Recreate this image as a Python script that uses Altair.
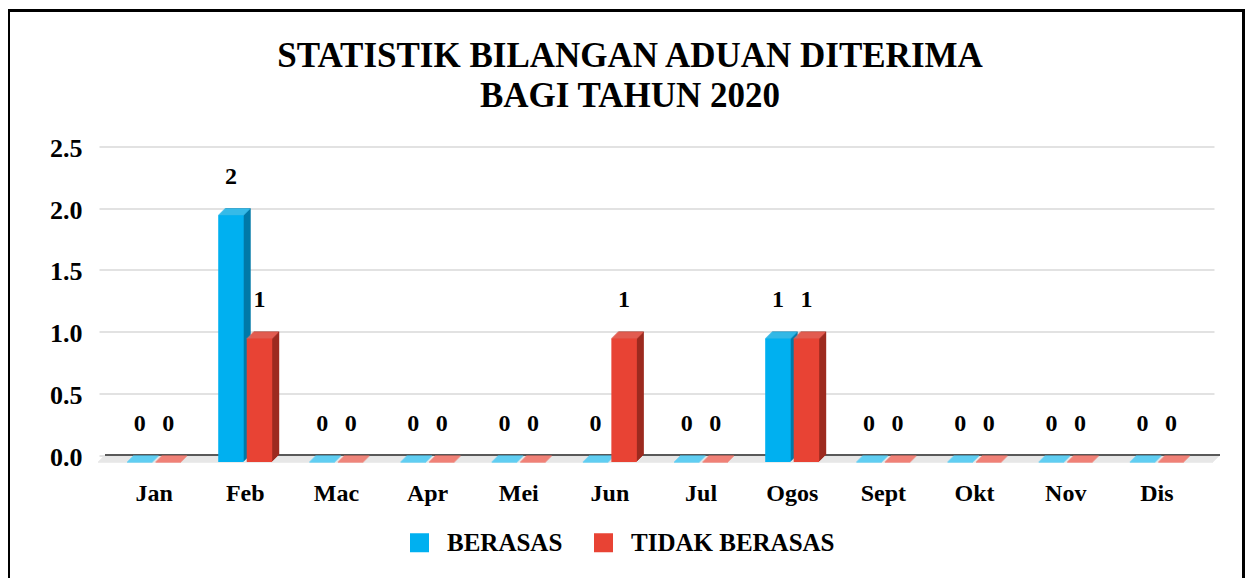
import altair as alt
import pandas as pd

# ---- data ----
months = ["Jan", "Feb", "Mac", "Apr", "Mei", "Jun", "Jul", "Ogos", "Sept", "Okt", "Nov", "Dis"]
berasas = [0, 2, 0, 0, 0, 0, 0, 1, 0, 0, 0, 0]
tidak_berasas = [0, 1, 0, 0, 0, 1, 0, 1, 0, 0, 0, 0]
series_names = ["BERASAS", "TIDAK BERASAS"]
y_ticks = [0, 0.5, 1.0, 1.5, 2.0, 2.5]
title_lines = ["STATISTIK BILANGAN ADUAN DITERIMA", "BAGI TAHUN 2020"]

rows = []
for m, b, t in zip(months, berasas, tidak_berasas):
    rows.append({"month": m, "series": series_names[0], "value": b})
    rows.append({"month": m, "series": series_names[1], "value": t})
df = pd.DataFrame(rows)

# ---- styling / geometry ----
W, H, D = 1115, 308.5, 7
FONT = "Liberation Serif"
front_colors = ["#00B0F0", "#E84334"]
top_colors = ["#40C8F5", "#F26A5C"]
side_colors = ["#0079A8", "#9C2A1F"]


def pick(colors):
    return alt.when(alt.datum.series == series_names[0]).then(alt.value(colors[0])).otherwise(alt.value(colors[1]))


def xenc(shift, axis=None):
    return alt.X("month:N", sort=months, title=None, axis=axis,
                 scale=alt.Scale(range=[shift, W + shift], paddingInner=0.4066, paddingOuter=0.3187))


xoff = alt.XOffset("series:N", sort=series_names,
                   scale=alt.Scale(range=[0, 54], paddingInner=0.105, paddingOuter=0))

y_axis = alt.Axis(values=y_ticks, format=".1f", labelFont=FONT, labelFontWeight="bold",
                  labelFontSize=26, labelColor="black", labelPadding=23, labelOffset=2,
                  domain=False, ticks=False, tickSize=0, grid=True, gridColor="#d9d9d9",
                  gridWidth=1.5, title=None)
x_axis = alt.Axis(labelFont=FONT, labelFontWeight="bold", labelFontSize=24, labelColor="black",
                  labelPadding=45, labelBaseline="alphabetic", labelAngle=0, domain=False,
                  ticks=False, tickSize=0, grid=False, title=None)

yscale = alt.Scale(domain=[0, 2.5], nice=False, zero=True)


def yenc():
    return alt.Y("value:Q", scale=yscale, axis=y_axis, title=None)


def ydatum():
    return alt.Y(datum=0, type="quantitative", scale=yscale, axis=y_axis, title=None)


one = pd.DataFrame({"k": [0]})
layers = []

# floor (light grey slanted strip)
for k in range(0, D + 1):
    layers.append(
        alt.Chart(one).mark_rule(color="#e6e6e6", strokeWidth=1.5, yOffset=D - k).encode(
            y=ydatum(), x=alt.value(k - D), x2=alt.value(W + k - D)))

# baseline
layers.append(
    alt.Chart(one).mark_rule(color="#595959", strokeWidth=2).encode(
        y=ydatum(), x=alt.value(0), x2=alt.value(W)))

base = alt.Chart(df)

# side (dark) faces
for k in range(1, D + 1):
    layers.append(
        base.mark_bar(yOffset=D - k, y2Offset=D - k).encode(
            x=xenc(k - D), xOffset=xoff, y=yenc(), color=pick(side_colors)))

# top (light) faces
for k in range(0, D):
    layers.append(
        base.mark_tick(orient="horizontal", size=25.5, thickness=1.6, yOffset=D - k).encode(
            x=xenc(k - D), xOffset=xoff, y=yenc(), color=pick(top_colors)))

# front faces with legend + x axis
layers.append(
    base.mark_bar(yOffset=D, y2Offset=D).encode(
        x=xenc(-D, x_axis), xOffset=xoff, y=yenc(),
        color=alt.Color("series:N", sort=series_names,
                        scale=alt.Scale(domain=series_names, range=front_colors),
                        legend=alt.Legend(orient="none", legendX=302, legendY=383.5,
                                          direction="horizontal", title=None, symbolType="square",
                                          symbolSize=361, symbolStrokeWidth=0, labelFont=FONT,
                                          labelFontSize=25, labelFontWeight="bold",
                                          labelColor="black", labelOffset=15, columnPadding=28,
                                          labelLimit=400, padding=0))))

# data labels
layers.append(
    base.mark_text(font=FONT, fontSize=24, fontWeight="bold", baseline="alphabetic",
                   dy=-24.5, color="black").encode(
        x=xenc(-D), xOffset=xoff, y=yenc(), text=alt.Text("value:Q", format="d")))

# title lines
for line, yy in zip(title_lines, [-79.8, -40]):
    layers.append(
        alt.Chart(one).mark_text(font=FONT, fontSize=35, fontWeight="bold", color="black",
                                 baseline="alphabetic", align="center").encode(
            x=alt.value(525), y=alt.value(yy), text=alt.value(line)))

# outer border
layers.append(
    alt.Chart(one).mark_rect(fillOpacity=0, stroke="black", strokeWidth=3).encode(
        x=alt.value(-96.5), x2=alt.value(W + 23.5), y=alt.value(-136), y2=alt.value(H + 150)))

chart = alt.layer(*layers).resolve_scale(x="independent").properties(
    width=W, height=H,
    autosize=alt.AutoSizeParams(type="none"),
    padding={"left": 97, "top": 138.5, "right": 25, "bottom": 123},
    background="white",
).configure_view(stroke=None)

chart.save("out.html", embed_options={"renderer": "svg", "actions": False})
